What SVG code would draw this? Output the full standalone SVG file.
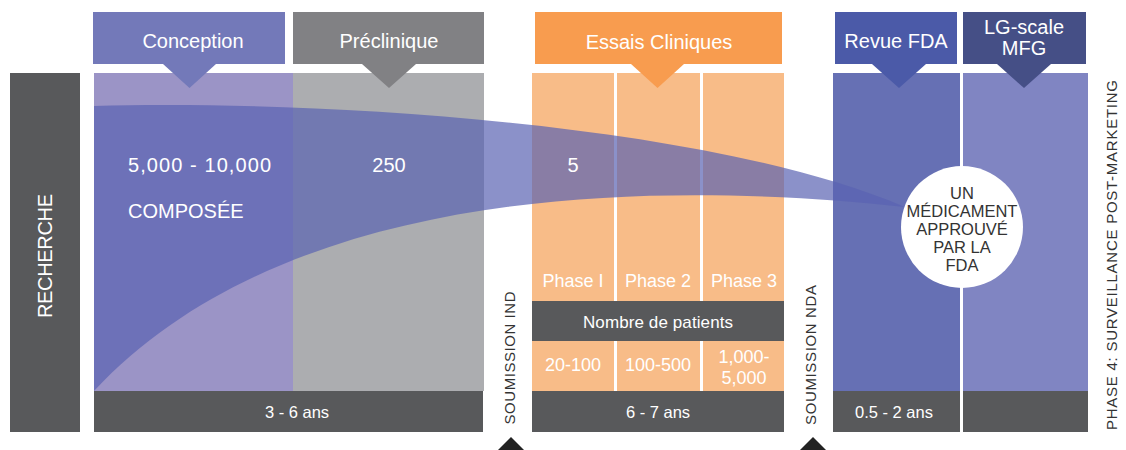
<svg xmlns="http://www.w3.org/2000/svg" width="1126" height="450" viewBox="0 0 1126 450">
<style>
text{font-family:"Liberation Sans","DejaVu Sans",sans-serif;}
.w{fill:#ffffff;}
.d{fill:#333333;}
.dark{fill:#58595b;}
.h{font-size:20px;}
.m{font-size:18px;}
.s{font-size:15px;}
.b{font-size:16.5px;}
.c{text-anchor:middle;}
</style>
<rect width="1126" height="450" fill="#ffffff"/>
<g id="recherche">
<rect x="10" y="73" width="70" height="359" class="dark"/>
<text transform="translate(45,256) rotate(-90)" class="w h c" dy="7" textLength="124" lengthAdjust="spacing">RECHERCHE</text>
</g>
<g id="conception">
<rect x="94" y="73" width="199" height="318" fill="#9b94c6"/>
<rect x="93" y="12" width="192" height="52" fill="#7379b9"/>
<polygon points="163,64 216,64 189.5,88" fill="#7379b9"/>
<text x="193" y="48" class="w h c">Conception</text>
</g>
<g id="preclinique">
<rect x="293" y="73" width="191" height="318" fill="#acadb0"/>
<rect x="293" y="12" width="191" height="52" fill="#818184"/>
<polygon points="362,64 416,64 389,88" fill="#818184"/>
<text x="389" y="48" class="w h c">Préclinique</text>
</g>
<g id="bar-3-6">
<rect x="94" y="391" width="389" height="41" class="dark"/>
<text x="297" y="418" class="w b c">3 - 6 ans</text>
</g>
<g id="essais">
<rect x="532" y="73" width="82" height="228" fill="#f8bc88"/>
<rect x="617" y="73" width="83" height="228" fill="#f8bc88"/>
<rect x="703" y="73" width="81" height="228" fill="#f8bc88"/>
<rect x="535" y="12" width="247" height="52" fill="#f89c4f"/>
<polygon points="631,64 684,64 657.5,88" fill="#f89c4f"/>
<text x="659" y="49" class="w h c">Essais Cliniques</text>
<text x="573" y="287" class="w m c">Phase I</text>
<text x="658" y="287" class="w m c">Phase 2</text>
<text x="744" y="287" class="w m c">Phase 3</text>
<rect x="532" y="301" width="252" height="40" class="dark"/>
<text x="658" y="328" class="w c" font-size="17" textLength="150" lengthAdjust="spacing">Nombre de patients</text>
<rect x="532" y="341" width="82" height="50" fill="#f8bc88"/>
<rect x="617" y="341" width="83" height="50" fill="#f8bc88"/>
<rect x="703" y="341" width="81" height="50" fill="#f8bc88"/>
<text x="573" y="371" class="w m c">20-100</text>
<text x="658" y="371" class="w m c">100-500</text>
<text x="744" y="363" class="w m c">1,000-</text>
<text x="744" y="384" class="w m c">5,000</text>
<rect x="532" y="391" width="252" height="41" class="dark"/>
<text x="658" y="418" class="w b c">6 - 7 ans</text>
</g>
<g id="fda">
<rect x="833" y="73" width="127" height="318" fill="#6670b4"/>
<rect x="963" y="73" width="125" height="318" fill="#8085c2"/>
<rect x="835" y="12" width="122" height="52" fill="#4b5aa8"/>
<polygon points="872,64 926,64 899,88" fill="#4b5aa8"/>
<text x="896" y="48" class="w h c">Revue FDA</text>
<rect x="963" y="12" width="123" height="52" fill="#454f86"/>
<polygon points="997,64 1051,64 1024,88" fill="#454f86"/>
<text x="1024" y="34" class="w h c">LG-scale</text>
<text x="1024" y="55" class="w h c">MFG</text>
<rect x="833" y="391" width="255" height="41" class="dark"/>
<rect x="960" y="391" width="3" height="41" fill="#ffffff"/>
<text x="855" y="418" class="w b">0.5 - 2 ans</text>
</g>
<g id="connectors">
<path d="M94,106 C300,100 700,120 905,207 C700,185 300,170 94,391 Z" fill="#5a63b2" fill-opacity="0.7"/>
</g>
<g id="labels-text">
<text x="128" y="172" class="w h" textLength="143" lengthAdjust="spacing">5,000 - 10,000</text>
<text x="128" y="218" class="w h">COMPOSÉE</text>
<text x="389" y="172" class="w h c">250</text>
<text x="573" y="172" class="w h c">5</text>
</g>
<g id="circle">
<circle cx="962" cy="227" r="61" fill="#ffffff"/>
<text x="962" y="199" class="d b c">UN</text>
<text x="962" y="217" class="d b c">MÉDICAMENT</text>
<text x="962" y="235" class="d b c">APPROUVÉ</text>
<text x="962" y="253" class="d b c">PAR LA</text>
<text x="962" y="271" class="d b c">FDA</text>
</g>
<g id="ind">
<text transform="translate(510,358) rotate(-90)" class="d s c" dy="5" textLength="133" lengthAdjust="spacing">SOUMISSION IND</text>
<polygon points="497,451 511,437 525,451" fill="#222222"/>
</g>
<g id="nda">
<text transform="translate(811,355) rotate(-90)" class="d s c" dy="5" textLength="140" lengthAdjust="spacing">SOUMISSION NDA</text>
<polygon points="799,451 813,437 827,451" fill="#222222"/>
</g>
<g id="phase4">
<text transform="translate(1112,255) rotate(-90)" class="d s c" dy="5" textLength="350" lengthAdjust="spacing">PHASE 4: SURVEILLANCE POST-MARKETING</text>
</g>
</svg>
